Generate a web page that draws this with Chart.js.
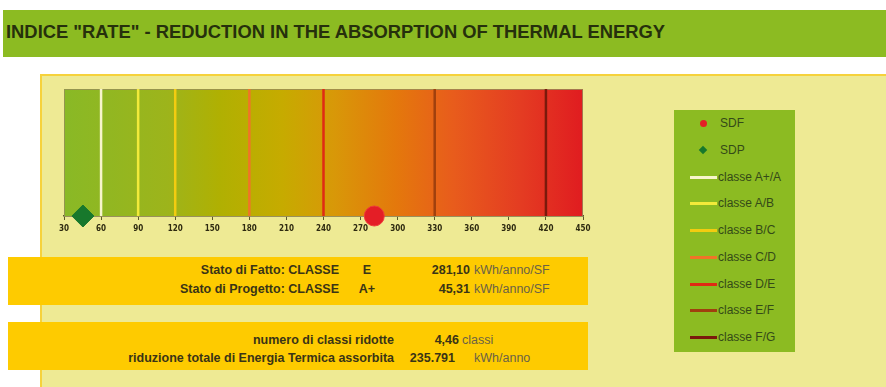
<!DOCTYPE html>
<html>
<head>
<meta charset="utf-8">
<title>Indice RATE</title>
<script src="https://cdn.jsdelivr.net/npm/chart.js@4.4.1/dist/chart.umd.min.js"></script>
<style>
  html, body { margin: 0; padding: 0; background: #fff; width: 886px; height: 387px; overflow: hidden; }
  body { position: relative; font-family: 'Liberation Sans', Arial, sans-serif; }
  #header { position: absolute; left: 3px; top: 10px; width: 883px; height: 47px; background: #8cbb22; }
  #title { position: absolute; left: 6px; top: 22px; font: bold 18px 'Liberation Sans Narrow', 'Liberation Sans', Arial, sans-serif;
           color: #26300c; white-space: nowrap; transform-origin: 0 50%; }
  #panel { position: absolute; left: 40px; top: 74px; width: 846px; height: 320px; background: #eeea94;
           border-left: 2px solid #f6d23c; border-top: 2px solid #f6d23c; }
  #chartBox { position: absolute; left: 40px; top: 76px; width: 600px; height: 165px; }
  #legend { position: absolute; left: 674px; top: 110px; width: 121px; height: 242px; background: #8cbb22; }
  .item { position: absolute; left: 0; width: 121px; height: 16px; }
  .item span.txt { position: absolute; top: 0; font-size: 12px; line-height: 16px; color: #344a18; white-space: nowrap; }
  .band { position: absolute; left: 8px; width: 580px; height: 48px; background: #fecb00; }
  .t { position: absolute; font-size: 12.5px; line-height: 14px; white-space: nowrap; color: #3a3416; }
  .b { font-weight: bold; }
  .u { color: #6b6246; }
</style>
</head>
<body>
<div id="header"></div>
<div id="title">INDICE "RATE" - REDUCTION IN THE ABSORPTION OF THERMAL ENERGY</div>
<div id="panel"></div>
<div id="chartBox"><canvas id="rateChart" width="600" height="165"></canvas></div>
<div id="legend"></div>
<div class="band" style="top:257px"></div>
<div class="band" style="top:322px"></div>
<div id="summary"></div>
<script>
// energy scale (kWh/anno/SF)
const axisMin = 30;
const axisMax = 450;
const axisStep = 30;

// class boundaries drawn as vertical lines
const classNames = ['classe A+/A', 'classe A/B', 'classe B/C', 'classe C/D', 'classe D/E', 'classe E/F', 'classe F/G'];
const classLimits = [60, 90, 120, 180, 240, 330, 420];

// current state (SDF) and design state (SDP)
const stateNames = ['SDF', 'SDP'];
const stateValues = [281.10, 45.31];
const stateClasses = ['E', 'A+'];
const stateLabels = ['Stato di Fatto: CLASSE', 'Stato di Progetto: CLASSE'];

// totals
const classesReduced = 4.46;
const energySaved = 235791;

const classColors = ['#f7f5cc', '#f2ea3a', '#f2cc10', '#f07428', '#e02a14', '#a0400e', '#7a1a0c'];
const stateColors = ['#e41e26', '#17782c'];
const stateStyles = ['circle', 'rectRot'];

function fmt(v, dec) {
  return v.toFixed(dec).replace('.', ',');
}

const datasets = [];
stateNames.forEach(function(name, i) {
  datasets.push({
    type: 'scatter',
    label: name,
    data: [{ x: stateValues[i], y: 0 }],
    pointStyle: stateStyles[i],
    pointRadius: i === 0 ? 10 : 11,
    backgroundColor: stateColors[i],
    borderColor: i === 0 ? '#ee3a3a' : stateColors[i],
    borderWidth: 1,
    clip: false,
    order: 0
  });
});
classNames.forEach(function(name, i) {
  datasets.push({
    type: 'line',
    label: name,
    data: [{ x: classLimits[i], y: 0 }, { x: classLimits[i], y: 1 }],
    borderColor: classColors[i],
    borderWidth: 2.5,
    pointRadius: 0,
    order: 1
  });
});

// background gradient and frame of the plot area
const plotBackground = {
  id: 'plotBackground',
  beforeDatasetsDraw(chart) {
    const a = chart.chartArea;
    const ctx = chart.ctx;
    const g = ctx.createLinearGradient(a.left, 0, a.right, 0);
    g.addColorStop(0, '#89b926');
    g.addColorStop(0.2, '#9db41b');
    g.addColorStop(0.3, '#b0b002');
    g.addColorStop(0.42, '#c6ab00');
    g.addColorStop(0.52, '#d89808');
    g.addColorStop(0.64, '#e4780c');
    g.addColorStop(0.75, '#e85c1c');
    g.addColorStop(0.88, '#e43c22');
    g.addColorStop(1, '#e01c20');
    ctx.save();
    ctx.fillStyle = g;
    ctx.fillRect(a.left, a.top, a.right - a.left, a.bottom - a.top);
    ctx.strokeStyle = 'rgba(150,140,90,0.8)';
    ctx.lineWidth = 1;
    ctx.strokeRect(a.left + 0.5, a.top + 0.5, a.right - a.left - 1, a.bottom - a.top);
    ctx.restore();
  }
};

const chart = new Chart(document.getElementById('rateChart'), {
  data: { datasets: datasets },
  options: {
    responsive: false,
    animation: false,
    layout: { padding: { left: 24, right: 57, top: 13, bottom: 5 } },
    plugins: { legend: { display: false }, tooltip: { enabled: false } },
    scales: {
      x: {
        type: 'linear',
        min: axisMin,
        max: axisMax,
        ticks: {
          stepSize: axisStep,
          padding: 4,
          maxRotation: 0,
          autoSkip: false,
          color: '#2e2a10',
          font: { family: "'DejaVu Sans Condensed', 'DejaVu Sans', sans-serif", size: 8, weight: 'bold' }
        },
        grid: { drawOnChartArea: false, drawTicks: true, tickLength: 4, color: '#5c5a2a' },
        border: { color: '#5c5a2a', width: 1.5 },
        afterFit(scale) { scale.height = 20; }
      },
      y: { type: 'linear', min: 0, max: 1, display: false }
    }
  },
  plugins: [plotBackground]
});

// legend built from the chart datasets
const legendEl = document.getElementById('legend');
chart.data.datasets.forEach(function(ds, i) {
  const row = document.createElement('div');
  row.className = 'item';
  row.style.top = (5 + i * 26.75) + 'px';
  let sw = document.createElement('span');
  sw.style.position = 'absolute';
  if (ds.type === 'scatter') {
    sw.style.left = '26px';
    sw.style.top = '5px';
    sw.style.width = '6px';
    sw.style.height = '6px';
    sw.style.background = ds.backgroundColor;
    if (ds.pointStyle === 'circle') {
      sw.style.borderRadius = '50%';
      sw.style.width = sw.style.height = '7px';
    } else {
      sw.style.transform = 'rotate(45deg)';
    }
  } else {
    sw.style.left = '16px';
    sw.style.top = '7px';
    sw.style.width = '27px';
    sw.style.height = '3px';
    sw.style.background = ds.borderColor;
  }
  row.appendChild(sw);
  const txt = document.createElement('span');
  txt.className = 'txt';
  txt.style.left = ds.type === 'scatter' ? '46px' : '44px';
  txt.textContent = ds.label;
  row.appendChild(txt);
  legendEl.appendChild(row);
});

// summary rows under the chart
const summary = document.getElementById('summary');
function put(text, x, y, align, cls) {
  const s = document.createElement('span');
  s.className = 't ' + cls;
  s.textContent = text;
  s.style.top = (y - 7) + 'px';
  if (align === 'right') s.style.right = (886 - x) + 'px';
  else if (align === 'center') { s.style.left = x + 'px'; s.style.transform = 'translateX(-50%)'; }
  else s.style.left = x + 'px';
  summary.appendChild(s);
}
stateLabels.forEach(function(label, i) {
  const y = 270 + i * 19;
  put(label, 339, y, 'right', 'b');
  put(stateClasses[i], 367, y, 'center', 'b');
  put(fmt(stateValues[i], 2), 470, y, 'right', 'b');
  put('kWh/anno/SF', 474, y, 'left', 'u');
});
put('numero di classi ridotte', 394, 340, 'right', 'b');
put(fmt(classesReduced, 2), 459, 340, 'right', 'b');
put('classi', 462, 340, 'left', 'u');
put('riduzione totale di Energia Termica assorbita', 394, 358, 'right', 'b');
put(energySaved.toLocaleString('de-DE'), 455, 358, 'right', 'b');
put('kWh/anno', 474, 358, 'left', 'u');

// fit the title to the header width
const title = document.getElementById('title');
const w = title.getBoundingClientRect().width;
title.style.transform = 'scaleX(' + (659 / w) + ')';
</script>
</body>
</html>
